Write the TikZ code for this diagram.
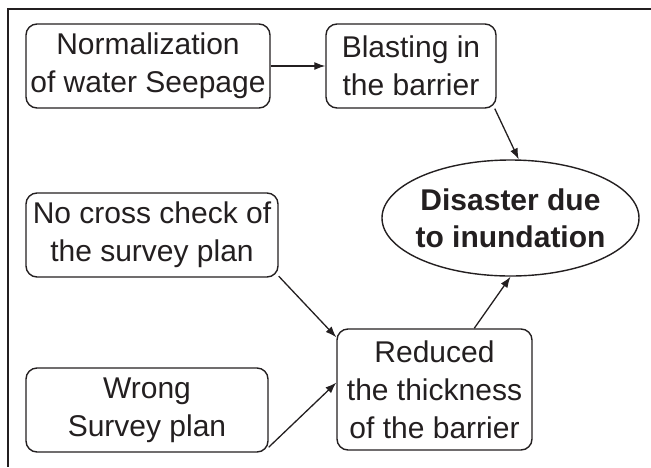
\documentclass[tikz,border=0pt]{standalone}
\usepackage{fontspec}
\setmainfont{Liberation Sans}
\usetikzlibrary{arrows.meta,shapes.geometric}
\definecolor{ink}{HTML}{231F20}
\tikzset{
  box/.style={draw=ink, line width=1.4pt, rounded corners=11pt, align=center, inner sep=0pt,
    text=ink, font=\fontsize{30}{38}\selectfont},
  oval/.style={draw=ink, line width=1.4pt, ellipse, inner sep=0pt},
  ovaltext/.style={align=center, inner sep=0pt, text=ink, font=\fontsize{30}{37}\selectfont\bfseries},
  link/.style={draw=ink, line width=1.3pt, -{Latex[length=11pt,width=8pt]}},
  frame/.style={draw=ink, line width=1.2pt}
}
\begin{document}
\begin{tikzpicture}[x=1pt,y=1pt]
\useasboundingbox (0,0) rectangle (651,-467);
\coordinate (ftr) at (651,-9);
\coordinate (ftl) at (8,-9);
\coordinate (fbl) at (8,-467);
\draw[frame] (ftr) -- (ftl) -- (fbl);

\node[box, minimum width=244pt, minimum height=84pt] (norm) at (148,-66) {Normalization\\of water Seepage};
\node[box, minimum width=170pt, minimum height=84pt] (blast) at (411,-66) {Blasting in\\the barrier};
\node[oval, minimum width=257pt, minimum height=116pt] (dis) at (510.5,-218) {};
\node[ovaltext] (distext) at (dis.center) {Disaster due\\to inundation};
\node[box, minimum width=252pt, minimum height=84pt] (cross) at (152,-235) {No cross check of\\the survey plan};
\node[box, minimum width=242pt, minimum height=84pt] (wrong) at (147,-410) {Wrong\\Survey plan};
\node[box, minimum width=195pt, minimum height=121pt] (red) at (434.5,-389.5) {Reduced\\the thickness\\of the barrier};

\draw[link] (norm.east) -- (blast.west);
\draw[link] (blast.-27) -- (dis.82);
\draw[link] (cross.-18) -- (red.152);
\draw[link] (wrong.-17) -- (red.176);
\draw[link] (red.57.5) -- (dis.south);
\end{tikzpicture}
\end{document}
